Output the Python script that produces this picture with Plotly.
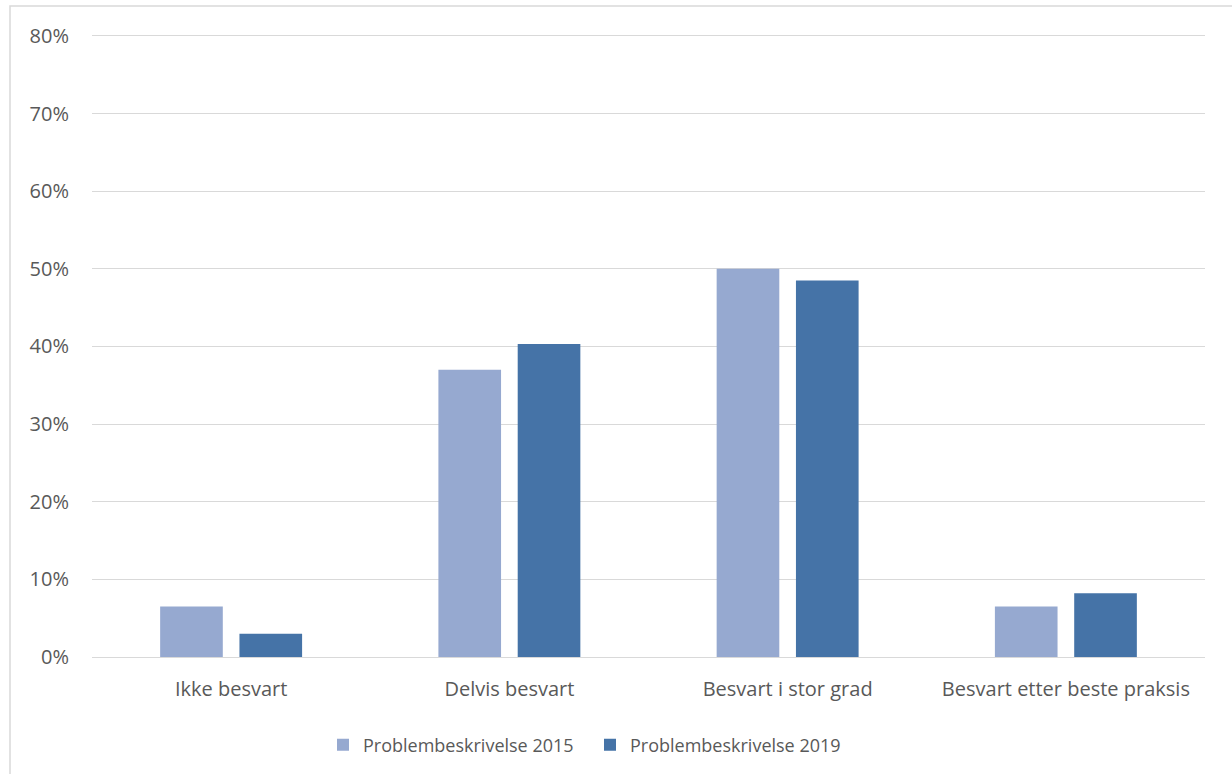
import plotly.graph_objects as go

categories = ["Ikke besvart", "Delvis besvart", "Besvart i stor grad", "Besvart etter beste praksis"]
series_names = ["Problembeskrivelse 2015", "Problembeskrivelse 2019"]
values_2015 = [0.065, 0.37, 0.50, 0.065]
values_2019 = [0.03, 0.403, 0.485, 0.082]
y_ticks = [0, 0.1, 0.2, 0.3, 0.4, 0.5, 0.6, 0.7, 0.8]
y_tick_labels = ["0%", "10%", "20%", "30%", "40%", "50%", "60%", "70%", "80%"]

colors = ["#96A9D0", "#4573A7"]
font_family = "'Open Sans', sans-serif"
text_color = "#595959"

fig = go.Figure()
for name, vals, col in zip(series_names, [values_2015, values_2019], colors):
    fig.add_trace(go.Bar(
        x=categories, y=vals, name=name,
        marker=dict(color=col, line=dict(width=0)),
    ))

fig.update_layout(
    width=1232, height=774,
    margin=dict(l=92, r=27, t=32, b=117, autoexpand=False),
    paper_bgcolor="white", plot_bgcolor="white",
    barmode="group", bargap=0.43, bargroupgap=0.21,
    font=dict(family=font_family, size=20, color=text_color),
    showlegend=True,
    legend=dict(
        orientation="h", xref="container", x=590 / 1232, xanchor="center",
        yref="container", y=1 - 745 / 774, yanchor="middle",
        font=dict(size=18, color=text_color), traceorder="normal",
        itemwidth=30, entrywidth=222,
    ),
    xaxis=dict(
        showgrid=False, showline=True, linecolor="#D9D9D9", linewidth=1,
        ticks="", tickfont=dict(size=20, color=text_color),
        ticklabelstandoff=14, automargin=False,
    ),
    yaxis=dict(
        range=[0, 0.805], tickvals=y_ticks, ticktext=y_tick_labels,
        showgrid=True, gridcolor="#D9D9D9", gridwidth=1,
        zeroline=False, showline=False, ticks="",
        tickfont=dict(size=20, color=text_color),
        ticklabelstandoff=22, automargin=False,
    ),
    shapes=[dict(
        type="rect", xref="paper", yref="paper",
        x0=-82 / 1113, x1=1.2, y0=-0.5, y1=1 + 26 / 625,
        line=dict(color="#D9D9D9", width=1.5), fillcolor="rgba(0,0,0,0)",
        layer="below",
    )],
)

fig.write_html("out.html")
